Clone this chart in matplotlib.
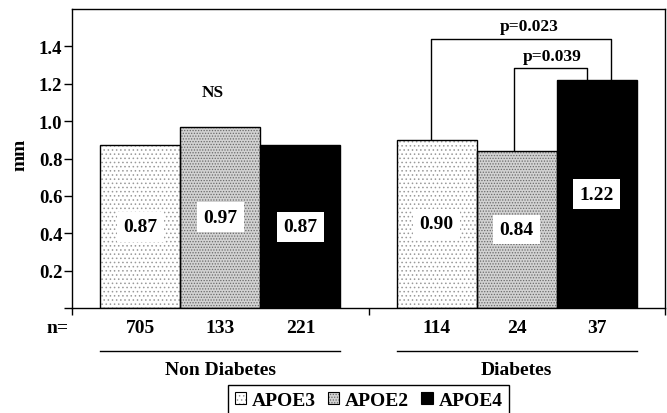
import matplotlib.pyplot as plt
from matplotlib.patches import Patch
from matplotlib.legend_handler import HandlerTuple

plt.rcParams['font.family'] = ['Liberation Serif', 'DejaVu Serif']
plt.rcParams['font.weight'] = 'bold'
plt.rcParams['hatch.linewidth'] = 0.6

# data
groups = ["Non Diabetes", "Diabetes"]
genotypes = ["APOE3", "APOE2", "APOE4"]
thickness = [[0.87, 0.97, 0.87], [0.90, 0.84, 1.22]]
n_counts = [[705, 133, 221], [114, 24, 37]]
p_labels = ["p=0.023", "p=0.039"]

# styles for each genotype: face, hatch, hatch colour
face = ["white", "#d2d2d2", "black"]
hatch = ["....", "......", None]
hatch_col = ["#9a9a9a", "#6a6a6a", "black"]

bar_w = 1.0
group_gap = 0.7
side = 0.35

fig = plt.figure(figsize=(6.67, 4.14), dpi=100)
ax = fig.add_axes([72 / 667, 1 - 309 / 414, 593 / 667, 299 / 414])

centers = []
for g in range(len(groups)):
    xs = [g * (3 * bar_w + group_gap) + i * bar_w for i in range(3)]
    centers.append(xs)
    for i, x in enumerate(xs):
        v = thickness[g][i]
        # hatched fill, then black outline on top
        ax.bar(x, v, width=bar_w, color=face[i], hatch=hatch[i],
               edgecolor=hatch_col[i], linewidth=0, zorder=2)
        ax.bar(x, v, width=bar_w, fill=False, edgecolor="black",
               linewidth=1.0, zorder=3)
        ax.text(x, v / 2, f"{v:.2f}", ha="center", va="center",
                fontsize=14, fontweight="bold", zorder=4,
                bbox=dict(boxstyle="square,pad=0.33", fc="white", ec="none"))

x_lo = centers[0][0] - bar_w / 2 - side
x_hi = centers[1][-1] + bar_w / 2 + side
x_div = (centers[0][-1] + centers[1][0]) / 2
ax.set_xlim(x_lo, x_hi)
ax.set_ylim(0, 1.6)

ax.set_yticks([0, 0.2, 0.4, 0.6, 0.8, 1.0, 1.2, 1.4])
ax.set_yticklabels([""] + [f"{t:.1f}" for t in [0.2, 0.4, 0.6, 0.8, 1.0, 1.2, 1.4]])
ax.set_xticks([x_lo, x_div, x_hi])
ax.set_xticklabels([])
ax.tick_params(axis="y", direction="out", length=6, width=1, pad=1, labelsize=13.5)
ax.tick_params(axis="x", direction="out", length=5, width=1)
for s in ax.spines.values():
    s.set_linewidth(1.0)

ax.text(-0.087, 0.515, "mm", transform=ax.transAxes, rotation=90,
        ha="center", va="center", fontsize=14)

# NS over the non-diabetes group
ax.text(centers[0][1] - 0.09, 1.156, "NS", ha="center", va="center", fontsize=12.5)

# significance brackets in the diabetes group
d = centers[1]
vals = thickness[1]
b1_l, b1_r, b1_y = d[0] - 0.07, d[2] + 0.18, 1.44
b2_l, b2_r, b2_y = d[1] - 0.04, d[2] - 0.12, 1.285
ax.plot([b1_l, b1_l, b1_r, b1_r], [vals[0], b1_y, b1_y, vals[2]], color="black", lw=1, zorder=1)
ax.plot([b2_l, b2_l, b2_r, b2_r], [vals[1], b2_y, b2_y, vals[2]], color="black", lw=1, zorder=1)
ax.text((b1_l + b1_r) / 2 + 0.1, 1.51, p_labels[0], ha="center", va="center", fontsize=12.5)
ax.text((b2_l + b2_r) / 2 + 0.02, 1.348, p_labels[1], ha="center", va="center", fontsize=12.5)

# n= row and group labels under the axis
tr = ax.get_xaxis_transform()
ax.text(-0.024, -0.065, "n=", transform=ax.transAxes, ha="center", va="center", fontsize=14)
for g in range(len(groups)):
    for i, x in enumerate(centers[g]):
        ax.text(x, -0.065, str(n_counts[g][i]), transform=tr, ha="center", va="center",
                fontsize=14)
    left = centers[g][0] - bar_w / 2
    right = centers[g][-1] + bar_w / 2
    ax.plot([left, right], [-0.144, -0.144], color="black", lw=1, transform=tr, clip_on=False)
    ax.text((left + right) / 2, -0.205, groups[g], transform=tr, ha="center", va="center",
            fontsize=14)

# legend
handles = []
for i in range(3):
    fill = Patch(facecolor=face[i], hatch=hatch[i], edgecolor=hatch_col[i], linewidth=0)
    outline = Patch(facecolor="none", edgecolor="black", linewidth=0.8)
    handles.append((fill, outline))
leg = fig.legend(handles, genotypes, ncol=3, loc="upper center",
                 bbox_to_anchor=(368.5 / 667, 1 - 386 / 414),
                 handler_map={tuple: HandlerTuple(ndivide=1)},
                 frameon=True, fancybox=False, edgecolor="black", framealpha=1,
                 prop={"size": 14, "weight": "bold"},
                 handlelength=0.6, handleheight=0.6, handletextpad=0.3,
                 columnspacing=0.6, borderpad=0.35, borderaxespad=0)
leg.get_frame().set_linewidth(1.0)

fig.savefig("out.png", dpi=100)
